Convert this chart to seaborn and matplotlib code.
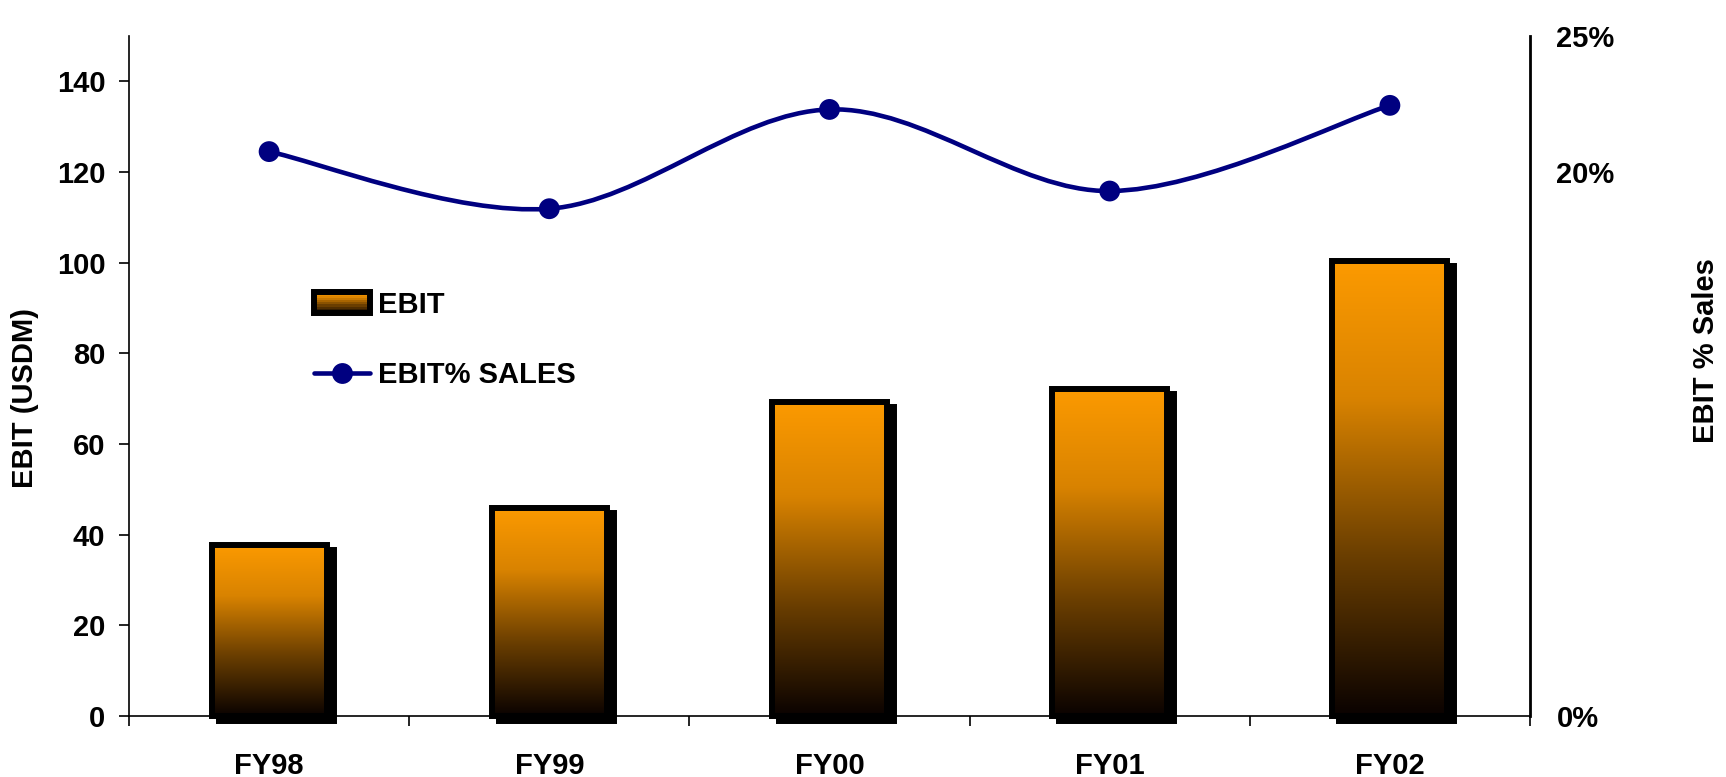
import numpy as np
import pandas as pd
import matplotlib
matplotlib.use("Agg")
import matplotlib.pyplot as plt
import seaborn as sns
from matplotlib.patches import Rectangle, PathPatch, Patch
from matplotlib.path import Path
from matplotlib.lines import Line2D
from matplotlib.legend_handler import HandlerBase
from matplotlib.transforms import ScaledTranslation
from matplotlib.colors import LinearSegmentedColormap
from matplotlib.ticker import FixedLocator

# ---- data ----
years = ["FY98", "FY99", "FY00", "FY01", "FY02"]
ebit = [37.8, 45.9, 69.3, 72.2, 100.3]
ebit_pct = [20.75, 18.65, 22.3, 19.3, 22.45]
left_ticks = [0, 20, 40, 60, 80, 100, 120, 140]
right_ticks = [0, 20, 25]

NAVY = "#000080"
cmap = LinearSegmentedColormap.from_list(
    "ebit", [(0.0, "#0a0200"), (0.35, "#6a3e00"), (0.7, "#d98300"), (1.0, "#fc9a00")])

FS = 21
sns.set_theme(style="white")
plt.rcParams["font.family"] = ["Liberation Sans", "DejaVu Sans"]
plt.rcParams["font.weight"] = "bold"
plt.rcParams["font.size"] = FS
for k in ["text.color", "axes.labelcolor", "xtick.color", "ytick.color"]:
    plt.rcParams[k] = "black"

W, H = 1726, 777
fig = plt.figure(figsize=(W / 100, H / 100), dpi=100)
ax = fig.add_axes([129 / W, 1 - 716 / H, 1401 / W, 680 / H])

df = pd.DataFrame({"year": years, "ebit": ebit})
sns.barplot(data=df, x="year", y="ebit", ax=ax, width=0.41, color="#fc9a00",
            edgecolor="black", linewidth=4.3, zorder=3)

shadow_off = ScaledTranslation(7 / 100, -5 / 100, fig.dpi_scale_trans)
grad = np.linspace(0, 1, 256).reshape(-1, 1)
for p in list(ax.patches):
    x0, w, h = p.get_x(), p.get_width(), p.get_height()
    p.set_facecolor("none")
    p.set_clip_on(False)
    sh = Rectangle((x0, 0), w, h, transform=ax.transData + shadow_off,
                   facecolor="black", edgecolor="black", lw=4.3, zorder=1, clip_on=False)
    ax.add_patch(sh)
    im = ax.imshow(grad, cmap=cmap, origin="lower", extent=[x0, x0 + w, 0, h],
                   aspect="auto", zorder=2, interpolation="bilinear")
    im.set_clip_path(p)

ax.set_xlim(-0.5, 4.5)
ax.set_ylim(0, 150)
ax.set_yticks(left_ticks)
ax.set_xticks(range(len(years)))
ax.set_xticklabels(years)
ax.xaxis.set_minor_locator(FixedLocator(np.arange(-0.5, len(years), 1.0)))
ax.tick_params(axis="x", which="major", length=0, pad=26, labelsize=FS, bottom=True)
ax.tick_params(axis="x", which="minor", length=7, width=1.2, color="black",
               direction="out", bottom=True)
ax.tick_params(axis="y", length=7, width=1.2, color="black", direction="out",
               pad=10, left=True, labelsize=FS)
ax.set_xlabel("")
ax.set_ylabel("EBIT (USDM)", fontsize=FS, fontweight="bold")
ax.yaxis.set_label_coords(-0.0645, 0.4676)
for s in ["top", "right"]:
    ax.spines[s].set_visible(False)
for s in ["left", "bottom"]:
    ax.spines[s].set_color("black")
    ax.spines[s].set_linewidth(1.2)

# ---- secondary axis ----
ax2 = ax.twinx()
ax2.set_ylim(0, 25)
xs = np.arange(len(years), dtype=float)
P = np.column_stack([xs, ebit_pct])
verts = [P[0]]
codes = [Path.MOVETO]
n = len(P)
for i in range(n - 1):
    pp = P[i - 1] if i > 0 else P[i]
    pn = P[i + 2] if i + 2 < n else P[i + 1]
    c1 = P[i] + (P[i + 1] - pp) / 6
    c2 = P[i + 1] - (pn - P[i]) / 6
    verts += [c1, c2, P[i + 1]]
    codes += [Path.CURVE4] * 3
ax2.add_patch(PathPatch(Path(verts, codes), facecolor="none", edgecolor=NAVY,
                        lw=3.3, zorder=3, transform=ax2.transData))
sns.scatterplot(x=xs, y=ebit_pct, ax=ax2, color=NAVY, s=225, edgecolor="none",
                zorder=4, legend=False)
ax2.set_yticks(right_ticks)
ax2.set_yticklabels([f"{v}%" for v in right_ticks])
ax2.tick_params(axis="y", length=0, pad=19, right=True, labelright=True, labelsize=FS)
ax2.set_ylabel("EBIT % Sales", fontsize=FS, fontweight="bold")
ax2.yaxis.set_label_coords(1.1155, 0.538)
for s in ["top", "left", "bottom"]:
    ax2.spines[s].set_visible(False)
ax2.spines["right"].set_color("black")
ax2.spines["right"].set_linewidth(2)
ax2.set_xlim(-0.5, 4.5)


class GradHandler(HandlerBase):
    def create_artists(self, legend, orig_handle, xdescent, ydescent, width,
                       height, fontsize, trans):
        arts = []
        k_n = 10
        for k in range(k_n):
            frac = (k + 0.5) / k_n
            arts.append(Rectangle((-xdescent, -ydescent + k * height / k_n), width,
                                  height / k_n, facecolor=cmap(frac),
                                  edgecolor="none", transform=trans))
        arts.append(Rectangle((-xdescent, -ydescent), width, height,
                              facecolor="none", edgecolor="black", lw=4.3,
                              transform=trans))
        return arts


h_bar = Patch()
h_line = Line2D([], [], color=NAVY, lw=3.3, marker="o", markersize=15,
                markeredgecolor="none")
fig.legend([h_bar, h_line], ["EBIT", "EBIT% SALES"],
           handler_map={h_bar: GradHandler()}, loc="upper left",
           bbox_to_anchor=(299 / W, 1 - 276 / H), frameon=False, borderpad=0,
           handlelength=1.95, handleheight=0.72, handletextpad=0.25,
           labelspacing=1.45, prop={"size": FS, "weight": "bold"})

fig.savefig("out.png", dpi=100)
